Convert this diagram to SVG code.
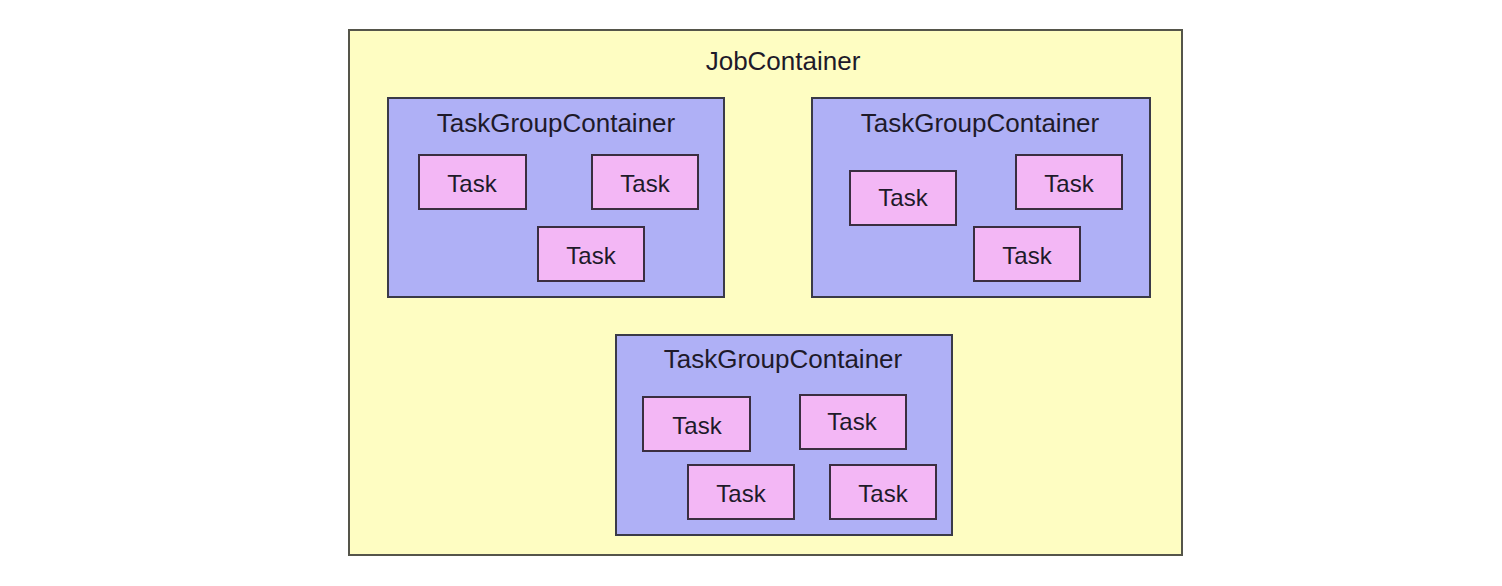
<svg xmlns="http://www.w3.org/2000/svg" width="1502" height="586" viewBox="0 0 1502 586">
<style>
.job{fill:#fefdc2;stroke:#55554a;stroke-width:2}
.tgc{fill:#afb0f6;stroke:#3a3a48;stroke-width:2}
.task{fill:#f3b7f5;stroke:#3a2e40;stroke-width:2}
text{font-family:"Liberation Sans",Arial,sans-serif;fill:#1e1a2a;text-anchor:middle}
.lbl{font-size:26px}
.tl{font-size:24px}
</style>
<rect width="1502" height="586" fill="#ffffff"/>
<g id="job">
<rect class="job" x="349" y="30" width="833" height="525"/>
<text class="lbl" x="783" y="70">JobContainer</text>
</g>
<g id="tgc1">
<rect class="tgc" x="388" y="98" width="336" height="199"/>
<text class="lbl" x="556" y="132">TaskGroupContainer</text>
</g>
<g id="tgc1-task1"><rect class="task" x="419" y="155" width="107" height="54"/><text class="tl" x="472" y="192">Task</text></g>
<g id="tgc1-task2"><rect class="task" x="592" y="155" width="106" height="54"/><text class="tl" x="645" y="192">Task</text></g>
<g id="tgc1-task3"><rect class="task" x="538" y="227" width="106" height="54"/><text class="tl" x="591" y="264">Task</text></g>
<g id="tgc2">
<rect class="tgc" x="812" y="98" width="338" height="199"/>
<text class="lbl" x="980" y="132">TaskGroupContainer</text>
</g>
<g id="tgc2-task1"><rect class="task" x="850" y="171" width="106" height="54"/><text class="tl" x="903" y="206">Task</text></g>
<g id="tgc2-task2"><rect class="task" x="1016" y="155" width="106" height="54"/><text class="tl" x="1069" y="192">Task</text></g>
<g id="tgc2-task3"><rect class="task" x="974" y="227" width="106" height="54"/><text class="tl" x="1027" y="264">Task</text></g>
<g id="tgc3">
<rect class="tgc" x="616" y="335" width="336" height="200"/>
<text class="lbl" x="783" y="368">TaskGroupContainer</text>
</g>
<g id="tgc3-task1"><rect class="task" x="643" y="397" width="107" height="54"/><text class="tl" x="697" y="434">Task</text></g>
<g id="tgc3-task2"><rect class="task" x="800" y="395" width="106" height="54"/><text class="tl" x="852" y="430">Task</text></g>
<g id="tgc3-task3"><rect class="task" x="688" y="465" width="106" height="54"/><text class="tl" x="741" y="502">Task</text></g>
<g id="tgc3-task4"><rect class="task" x="830" y="465" width="106" height="54"/><text class="tl" x="883" y="502">Task</text></g>
<g id="connectors"></g>
</svg>
